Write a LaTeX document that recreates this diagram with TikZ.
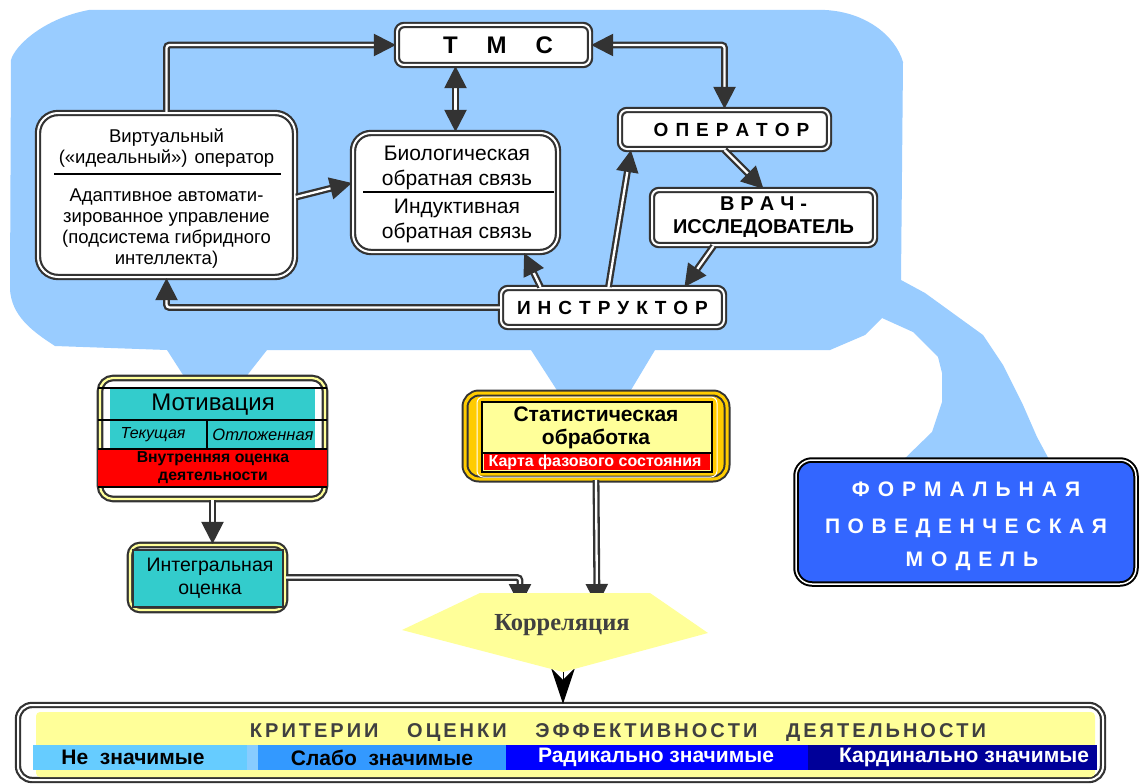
\documentclass[tikz,border=0pt]{standalone}
\usepackage{fontspec}
\setmainfont{Liberation Sans}
\newfontfamily\serifb{Liberation Serif}
\usetikzlibrary{arrows.meta,calc}
\definecolor{blob}{HTML}{99CCFF}
\definecolor{dk}{HTML}{333333}
\definecolor{cyanbox}{HTML}{33CCCC}
\definecolor{redbox}{HTML}{FF0000}
\definecolor{paley}{HTML}{FFFF99}
\definecolor{gold}{HTML}{FFCC00}
\definecolor{formblue}{HTML}{3366FF}
\definecolor{bandA}{HTML}{66CCFF}
\definecolor{bandAB}{HTML}{88CCFF}
\definecolor{bandB}{HTML}{3399FF}
\definecolor{bandC}{HTML}{0000FF}
\definecolor{bandD}{HTML}{000099}
\definecolor{korrtxt}{HTML}{404040}
\def\spc#1#2{\def\spcsep{\kern#1}\spcB#2\relax}
\def\spcB#1{#1\spcA}
\def\spcA#1{\ifx#1\relax\else\spcsep#1\expandafter\spcA\fi}
\begin{document}
\begin{tikzpicture}[x=1pt,y=-1pt,
  box/.style={draw=dk, line width=2.2pt, double=white, double distance=2pt, fill=white, rounded corners=7pt, inner sep=0pt, align=center},
  mbox/.style={draw=dk, line width=2.2pt, double=paley, double distance=2.2pt, fill=white, rounded corners=13pt, inner sep=0pt},
  sbox/.style={draw=dk, line width=2pt, double=gold, double distance=3pt, fill=gold, rounded corners=14pt, inner sep=0pt},
  fbox/.style={draw=black, line width=2pt, double=white, double distance=1.5pt, fill=formblue, rounded corners=16pt, inner sep=0pt},
  txt/.style={inner sep=0pt, align=center},
  arr/.style={draw=dk, line width=2.3pt, double=white, double distance=2.3pt, -{Triangle[length=22pt,width=22pt]}},
  arrb/.style={draw=dk, line width=2.3pt, double=white, double distance=2.3pt, {Triangle[length=22pt,width=22pt]}-{Triangle[length=22pt,width=22pt]}}
]
\useasboundingbox (0,0) rectangle (1141,784);
\fill[white] (0,0) rectangle (1141,784);
% blue background blob
\fill[blob] (89,10) -- (825,10) .. controls (865,12) and (895,35) .. (903,62)
  -- (901,280) -- (925,293) -- (983,335) -- (1003,365) -- (1023,405) -- (1037,437) -- (1052,465)
  -- (898,465) -- (932,432) -- (942,402) -- (942,373) -- (938,357) -- (913,332) -- (882,318)
  -- (865,335) -- (830,350) -- (655,350) -- (628,395) -- (560,395) -- (531,350)
  -- (267,350) -- (245,378) -- (185,378) -- (167,350) -- (55,346)
  .. controls (30,330) and (12,315) .. (10,290) -- (11,60)
  .. controls (15,45) and (45,18) .. (89,10) -- cycle;

% top boxes
\node[box, minimum width=193pt, minimum height=40pt, font=\bfseries\fontsize{24}{24}\selectfont] (tms) at (493.5,45) {\hspace*{9pt}\spc{29pt}{ТМС}};
\node[box, minimum width=209pt, minimum height=39pt, font=\bfseries\fontsize{19}{19}\selectfont] (oper) at (724.5,129.5) {\hspace*{14pt}\spc{7pt}{ОПЕРАТОР}};
\node[box, minimum width=223pt, minimum height=55pt, font=\bfseries\fontsize{20}{23}\selectfont] (vrach) at (763.5,217.5) {\spc{6pt}{ВРАЧ-}\\ИССЛЕДОВАТЕЛЬ};
\node[box, minimum width=223pt, minimum height=39pt, font=\bfseries\fontsize{19}{19}\selectfont] (instr) at (612.5,307.5) {\spc{7pt}{ИНСТРУКТОР}};

% virtual operator box
\node[box, rounded corners=20pt, minimum width=257pt, minimum height=164pt] (virt) at (166.5,195) {};
\node[txt, font=\fontsize{18.5}{21}\selectfont] (virtA) at (166.5,148) {Виртуальный\\(«идеальный»)\hspace{7pt}оператор};
\draw[black, line width=2.5pt] (54,174) -- (281,174);
\node[txt, font=\fontsize{18.5}{21}\selectfont] (virtB) at (166.5,229) {Адаптивное автомати-\\зированное управление\\(подсистема гибридного\\интеллекта)};

% biofeedback box
\node[box, rounded corners=18pt, minimum width=205pt, minimum height=119pt] (bio) at (455.5,192.5) {};
\node[txt, font=\fontsize{21}{25}\selectfont] (bioA) at (457,168) {Биологическая\\обратная связь};
\draw[black, line width=2.2pt] (363,192) -- (554,192);
\node[txt, font=\fontsize{21}{25}\selectfont] (bioB) at (457,221) {Индуктивная\\обратная связь};

% motivation box
\node[mbox, minimum width=225pt, minimum height=121pt] (motiv) at (212.5,438.5) {};
\fill[cyanbox] (110,388) rectangle (315,449);
\fill[redbox] (98,449) rectangle (327,487);
\draw[black, line width=1.6pt] (98,388) -- (327,388) (98,420) -- (327,420) (98,449) -- (327,449) (98,487) -- (327,487) (207,420) -- (207,449);
\node[txt, font=\fontsize{24}{24}\selectfont] (motivT) at (213,405) {Мотивация};
\node[txt, font=\itshape\fontsize{16}{16}\selectfont] (tek) at (153,435) {Текущая};
\node[txt, font=\itshape\fontsize{16.5}{16.5}\selectfont] (otl) at (263,435) {Отложенная};
\node[txt, font=\bfseries\fontsize{15.8}{18}\selectfont] (vnutr) at (213,468) {Внутренняя оценка\\деятельности};

% integral box
\node[mbox, rounded corners=10pt, minimum width=155pt, minimum height=65pt] (integ) at (207.5,577.5) {};
\filldraw[fill=cyanbox, draw=dk, line width=1.2pt] (133,550) rectangle (283,607);
\node[txt, font=\fontsize{19.5}{23}\selectfont] (integT) at (210,578) {Интегральная\\оценка};

% statistics box
\node[sbox, minimum width=262pt, minimum height=86pt] (stat) at (596,436) {};
\draw[white, line width=1pt, rounded corners=6pt] (477,397) rectangle (717,477);
\filldraw[fill=paley, draw=black, line width=2pt] (482,402) rectangle (712,472);
\fill[redbox] (484,453) rectangle (710,470);
\draw[black, line width=1.5pt] (483,453) -- (711,453);
\node[txt, font=\bfseries\fontsize{21}{23}\selectfont] (statT) at (596,428) {Статистическая\\обработка};
\node[txt, text=white, font=\bfseries\fontsize{16}{16}\selectfont] (karta) at (595,462) {Карта фазового состояния};

% formal model box
\node[fbox, minimum width=340pt, minimum height=124pt] (form) at (966,522) {};
\node[txt, text=white, font=\bfseries\fontsize{21}{21}\selectfont] (f1) at (966,489) {\spc{8pt}{ФОРМАЛЬНАЯ}};
\node[txt, text=white, font=\bfseries\fontsize{21}{21}\selectfont] (f2) at (966,528) {\spc{7.5pt}{ПОВЕДЕНЧЕСКАЯ}};
\node[txt, text=white, font=\bfseries\fontsize{21}{21}\selectfont] (f3) at (972,561) {\spc{8pt}{МОДЕЛЬ}};

% criteria box
\node[box, rounded corners=14pt, minimum width=1085pt, minimum height=75pt] (crit) at (560.5,742.5) {};
\fill[paley, rounded corners=4pt] (36,712) rectangle (1095,777);
\fill[bandA] (33,745) rectangle (247,770);
\fill[bandAB] (247,745) rectangle (258,770);
\fill[bandB] (258,745) rectangle (506,770);
\fill[bandC] (506,745) rectangle (808,770);
\fill[bandD] (808,745) rectangle (1097,770);
\node[txt, text=korrtxt, font=\bfseries\fontsize{20}{20}\selectfont] (critT) at (618,733) {\spc{3pt}{КРИТЕРИИ~~~ОЦЕНКИ~~~ЭФФЕКТИВНОСТИ~~~ДЕЯТЕЛЬНОСТИ}};
\node[txt, font=\bfseries\fontsize{21}{21}\selectfont] (b1) at (133,757.5) {Не~~значимые};
\node[txt, font=\bfseries\fontsize{21}{21}\selectfont] (b2) at (382,757.5) {Слабо~~значимые};
\node[txt, text=white, font=\bfseries\fontsize{21}{21}\selectfont] (b3) at (656,757.5) {Радикально значимые};
\node[txt, text=white, font=\bfseries\fontsize{21}{21}\selectfont] (b4) at (964,757.5) {Кардинально значимые};

% connectors
\draw[arr, rounded corners=3pt] (virt.north) |- (tms.west);
\draw[arrb] (bio.north) -- (bio.north |- tms.south);
\draw[arr] ([yshift=-2pt]virt.east) -- ([yshift=9.5pt]bio.west);
\draw[arr, rounded corners=3pt] (instr.west) -| (virt.south);
\draw[arr] ([xshift=-72pt]instr.north) -- ([xshift=-35pt]bio.south east);
\draw[arrb, rounded corners=3pt] (tms.east) -| (oper.north);
\draw[arr] ([xshift=-4pt]instr.north) -- ([xshift=12pt]oper.south west);
\draw[arr] (oper.south) -- (vrach.north);
\draw[arr] ([xshift=-50pt]vrach.south) -- ([xshift=72pt]instr.north);
\draw[arr] (motiv.south) -- (motiv.south |- integ.north);
\coordinate (k1) at (520,606);
\coordinate (k2) at (597,606);
\coordinate (kout) at (563,655);
\draw[arr, rounded corners=3pt] (integ.east) -| (k1);
\draw[arr] (stat.south) -- (k2);
\draw[black, line width=1pt, -{Stealth[length=36pt,width=24pt,inset=12pt]}] (kout) -- (kout |- crit.north);

% correlation hexagon
\fill[paley] (480,593) -- (650,593) -- (708,633) -- (563,672) -- (402,630) -- cycle;
\node[txt, text=korrtxt, font=\serifb\bfseries\fontsize{24.5}{24.5}\selectfont] (korr) at (562,625) {Корреляция};
\end{tikzpicture}
\end{document}
